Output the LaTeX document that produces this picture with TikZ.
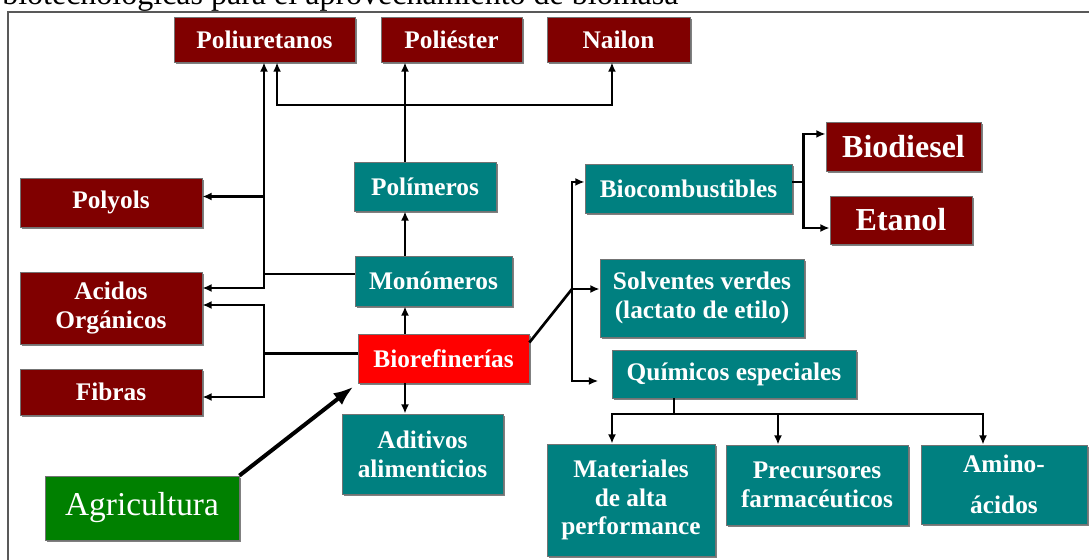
\documentclass[tikz,border=0pt]{standalone}
\usepackage{fontspec}
\setmainfont{Liberation Serif}
\usetikzlibrary{positioning, arrows.meta, shadows, calc}

\begin{document}
\begin{tikzpicture}[
    x=0.75pt, y=-0.75pt,
    box/.style={rectangle, draw=black!55, line width=0.6pt, text=white, align=center, inner sep=2pt,
        font=\fontsize{19}{21.5}\selectfont\bfseries,
        drop shadow={shadow xshift=1.3pt, shadow yshift=-1.3pt, fill=black!50, opacity=1}},
    product/.style={box, fill=red!50!black},
    process/.style={box, fill=teal},
    refinery/.style={box, fill=red},
    source/.style={box, fill=green!50!black, font=\fontsize{25}{28}\selectfont},
    fuel/.style={product, font=\fontsize{24}{26}\selectfont\bfseries},
    boxsize/.style 2 args={minimum width=#1*0.75pt, minimum height=#2*0.75pt},
    flow/.style={line width=2pt, -{Latex[length=7pt, width=6pt]}},
    feed/.style={line width=2pt}
]
    \useasboundingbox (0,0) rectangle (1089,560);

    % caption and frame
    \node[anchor=base west, inner sep=0, font=\fontsize{24}{24}\selectfont] (caption) at (2,5) {biotecnológicas para el aprovechamiento de biomasa};
    \draw[line width=1.5pt, black!65] (1089,12.5) -- (7.5,12.5) -- (7.5,560);

    % Products on top
    \node[product, boxsize={181}{45}] (poliuretanos) at (264.5,39.5) {Poliuretanos};
    \node[product, boxsize={141}{45}] (poliester) at (451.5,39.5) {Poliéster};
    \node[product, boxsize={143}{45}] (nailon) at (618.5,39.5) {Nailon};

    % Products on the left
    \node[product, boxsize={182}{49}] (polyols) at (111,202.5) {Polyols};
    \node[product, boxsize={182}{72}] (acidos) at (111,308) {Acidos\\Orgánicos};
    \node[product, boxsize={182}{46}] (fibras) at (111,392) {Fibras};

    % Central chain
    \node[process, boxsize={142}{49}] (polimeros) at (425,186.5) {Polímeros};
    \node[process, boxsize={157}{50}] (monomeros) at (433.5,281) {Monómeros};
    \node[refinery, boxsize={171}{49}] (biorefinerias) at (443.5,358.5) {Biorefinerías};
    \node[process, boxsize={161}{80}] (aditivos) at (422.5,454) {Aditivos\\alimenticios};
    \node[source, boxsize={194}{64}] (agricultura) at (142,508) {Agricultura};

    % Right branch
    \node[process, boxsize={207}{49}] (biocombustibles) at (688.5,188.5) {Biocombustibles};
    \node[fuel, boxsize={155}{49}] (biodiesel) at (903.5,146.5) {Biodiesel};
    \node[fuel, boxsize={142}{48}] (etanol) at (901,220) {Etanol};
    \node[process, boxsize={204}{78}] (solventes) at (702,298) {Solventes verdes\\(lactato de etilo)};
    \node[process, boxsize={244}{48}] (quimicos) at (734,374) {Químicos especiales};
    \node[process, boxsize={168}{112}] (materiales) at (631,500) {Materiales\\de alta\\performance};
    \node[process, boxsize={182}{80}] (precursores) at (817,485) {Precursores\\farmacéuticos};
    \node[process, boxsize={166}{79}] (amino) at (1004,484.5) {Amino-\\[9pt]ácidos};

    % spine
    \coordinate (spine) at (405,0);
    \draw[flow] (biorefinerias.north -| spine) -- (monomeros.south -| spine);
    \draw[flow] (monomeros.north -| spine) -- (polimeros.south -| spine);
    \draw[flow] (polimeros.north -| spine) -- (poliester.south -| spine);
    \draw[flow] (biorefinerias.south -| spine) -- (aditivos.north -| spine);

    % fork to Poliuretanos and Nailon
    \coordinate (fork) at (405,105);
    \draw[flow] (fork) -| ([xshift=9.4pt]poliuretanos.south);
    \draw[flow] (fork) -| ([xshift=-4.9pt]nailon.south);

    % left trunk from Monómeros
    \coordinate (trunk) at (264,0);
    \coordinate (mono) at ([yshift=5.25pt]monomeros.west);
    \draw[feed] (mono) -- (mono -| trunk);
    \draw[flow] (mono -| trunk) -- (trunk |- poliuretanos.south);
    \draw[flow] (mono -| trunk) |- ([yshift=15pt]acidos.east);
    \draw[flow] ([yshift=4.5pt]polyols.east -| trunk) -- ([yshift=4.5pt]polyols.east);

    % left bracket from Biorefinerías
    \coordinate (bio) at ([yshift=4pt]biorefinerias.west);
    \draw[feed] (bio) -- (bio -| trunk);
    \draw[flow] (bio -| trunk) |- ([yshift=2.25pt]acidos.east);
    \draw[flow] (bio -| trunk) |- ([yshift=-3.75pt]fibras.east);

    % right hub
    \coordinate (hub) at (572,289);
    \draw[feed] ([yshift=12pt]biorefinerias.east) -- (hub);
    \draw[flow] (hub) |- ([yshift=4.9pt]biocombustibles.west);
    \draw[flow] (hub) -- (hub -| solventes.west);
    \draw[flow, shorten >=10pt] (hub) |- ([yshift=-5.25pt]quimicos.west);

    % fuels
    \coordinate (split) at ([xshift=8.25pt, yshift=4.9pt]biocombustibles.east);
    \draw[feed] ([yshift=4.9pt]biocombustibles.east) -- (split);
    \draw[flow] (split) |- ([yshift=9.4pt]biodiesel.west);
    \draw[flow] (split) |- ([yshift=-6pt]etanol.west);

    % special chemicals
    \coordinate (chem) at (674,414);
    \draw[feed] (quimicos.south -| chem) -- (chem);
    \draw[flow] (chem) -| ([xshift=-14.25pt]materiales.north);
    \draw[flow] (chem) -| ([xshift=-29.25pt]precursores.north);
    \draw[flow] (chem) -| ([xshift=-15.75pt]amino.north);

    % Agricultura feeds the biorefinery
    \draw[line width=3pt, -{Latex[length=15pt, width=11pt]}, shorten >=4pt] (agricultura.north east) -- (biorefinerias.south west);

\end{tikzpicture}
\end{document}
